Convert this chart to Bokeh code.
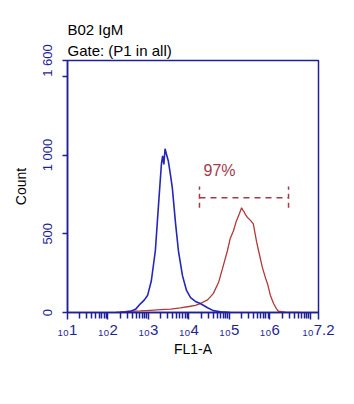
from bokeh.plotting import figure
from bokeh.models import Range1d, FixedTicker, Label, Title
from bokeh.embed import file_html
from bokeh.resources import INLINE

# ---- data (log10 of FL1-A, count) ----
blue_log = [2.20, 2.45, 2.56, 2.68, 2.80, 2.90, 2.98, 3.07, 3.17, 3.25, 3.32, 3.35, 3.38,
            3.41, 3.44, 3.49, 3.54, 3.59, 3.67, 3.74, 3.84, 3.94, 4.04, 4.16, 4.28,
            4.46, 4.60, 4.78, 5.02]
blue_cnt = [0, 3, 8, 20, 55, 80, 110, 200, 392, 690, 943, 995, 940,
            1040, 1010, 962, 880, 790, 563, 392, 234, 140, 95, 70, 57,
            30, 12, 5, 0]

red_log = [2.30, 2.50, 2.80, 3.05, 3.30, 3.55, 3.79, 4.00, 4.16, 4.28, 4.46, 4.60, 4.73,
           4.83, 4.95, 5.02, 5.10, 5.17, 5.25, 5.30, 5.33, 5.36, 5.40, 5.44, 5.52,
           5.59, 5.67, 5.72, 5.81, 5.89, 5.94, 6.01, 6.09, 6.16, 6.21, 6.38, 6.75]
red_cnt = [3, 8, 10, 14, 18, 22, 30, 38, 45, 57, 80, 120, 190,
           280, 392, 470, 519, 580, 630, 665, 650, 640, 620, 605, 585,
           563, 450, 392, 290, 220, 183, 110, 57, 25, 8, 3, 0]

gate_log = [4.26, 6.46]
gate_cnt = 728
gate_cap = [665, 800]
gate_text = "97%"

x_tick_exp = [1, 2, 3, 4, 5, 6, 7, 7.2]
x_tick_labels = ["₁₀1", "₁₀2", "₁₀3", "₁₀4", "₁₀5", "₁₀6", "", "₁₀7.2"]
y_ticks = [0, 500, 1000, 1500, 1600]
y_tick_labels = {0: "0", 500: "500", 1000: "1 000", 1500: "", 1600: "1 600"}
title_1 = "B02 IgM"
title_2 = "Gate: (P1 in all)"

AXIS = "#1f1f96"
BLUE = "#2626b8"
RED = "#b23838"
GATE = "#a33a4c"
FONT = "Liberation Sans"

p = figure(width=354, height=404, x_axis_type="log",
           x_range=Range1d(10 ** x_tick_exp[0], 10 ** x_tick_exp[-1]),
           y_range=Range1d(y_ticks[0], y_ticks[-1]),
           output_backend="svg", toolbar_location=None,
           min_border_left=67, min_border_right=36,
           min_border_top=60, min_border_bottom=92)
p.background_fill_color = "white"
p.border_fill_color = "white"
p.xgrid.visible = False
p.ygrid.visible = False
p.outline_line_color = AXIS
p.outline_line_width = 1.5
p.outline_line_alpha = 1

# titles (added nearest-first)
p.add_layout(Title(text=title_2, text_font=FONT, text_font_size="15px",
                   text_font_style="normal", text_color="black", align="left",
                   standoff=4, offset=0), "above")
p.add_layout(Title(text=title_1, text_font=FONT, text_font_size="15px",
                   text_font_style="normal", text_color="black", align="left",
                   standoff=0, offset=0), "above")

# x axis
xa = p.xaxis[0]
major = [10 ** e for e in x_tick_exp]
minor = [m * 10 ** e for e in x_tick_exp[:-2] for m in range(2, 10)]
xa.ticker = FixedTicker(ticks=major, minor_ticks=minor)
xa.major_label_overrides = {v: t for v, t in zip(major, x_tick_labels)}
xa.major_label_text_font = FONT
xa.major_label_text_font_size = "15px"
xa.major_label_text_color = AXIS
xa.major_label_standoff = 1
xa.axis_line_color = AXIS
xa.axis_line_width = 1.5
xa.major_tick_line_color = AXIS
xa.minor_tick_line_color = AXIS
xa.major_tick_line_width = 1.5
xa.minor_tick_line_width = 1.5
xa.major_tick_in = 0
xa.major_tick_out = 7
xa.minor_tick_in = 0
xa.minor_tick_out = 6
xa.axis_label = "FL1-A"
xa.axis_label_text_font = FONT
xa.axis_label_text_font_size = "14px"
xa.axis_label_text_font_style = "normal"
xa.axis_label_text_color = "black"
xa.axis_label_standoff = 0

# y axis
ya = p.yaxis[0]
ya.ticker = FixedTicker(ticks=y_ticks)
ya.major_label_overrides = y_tick_labels
ya.major_label_orientation = "vertical"
ya.major_label_text_font = FONT
ya.major_label_text_font_size = "13px"
ya.major_label_text_color = AXIS
ya.major_label_standoff = 8
ya.axis_line_color = AXIS
ya.axis_line_width = 1.5
ya.major_tick_line_color = AXIS
ya.major_tick_line_width = 1.5
ya.major_tick_in = 0
ya.major_tick_out = 5
ya.minor_tick_line_color = None
ya.axis_label = "Count"
ya.axis_label_text_font = FONT
ya.axis_label_text_font_size = "14px"
ya.axis_label_text_font_style = "normal"
ya.axis_label_text_color = "black"
ya.axis_label_standoff = 8

# histograms
p.line([10 ** v for v in red_log], red_cnt, line_color=RED, line_width=1.3)
p.line([10 ** v for v in blue_log], blue_cnt, line_color=BLUE, line_width=1.6)

# gate marker
gx = [10 ** v for v in gate_log]
p.line(gx, [gate_cnt, gate_cnt], line_color=GATE, line_width=1.5, line_dash="6 5")
p.segment(x0=gx, y0=[gate_cap[0]] * 2, x1=gx, y1=[gate_cap[1]] * 2,
          line_color=GATE, line_width=1.5, line_dash="5 4")
p.add_layout(Label(x=gx[0], y=gate_cnt, text=gate_text, x_offset=4, y_offset=27,
                   text_font=FONT, text_font_size="16px", text_color=GATE,
                   text_baseline="alphabetic"))

open("out.html", "w").write(file_html(p, INLINE))
